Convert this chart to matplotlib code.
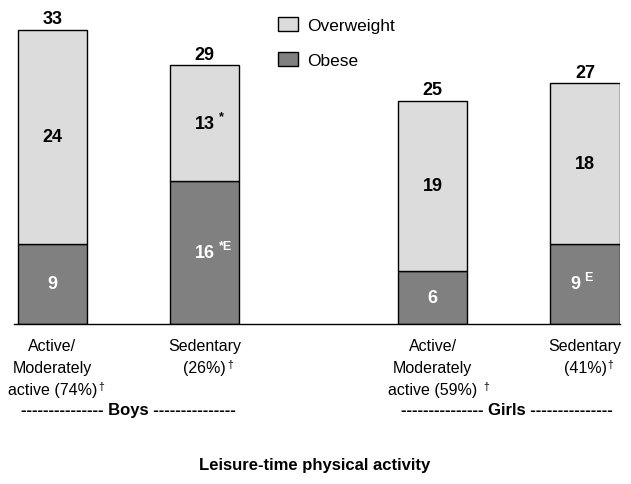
import matplotlib.pyplot as plt
from matplotlib.patches import Patch

plt.rcParams['font.family'] = ['Liberation Sans', 'DejaVu Sans']

# data
positions = [0, 1, 2.5, 3.5]
obese = [9, 16, 6, 9]
overweight = [24, 13, 19, 18]
totals = [33, 29, 25, 27]
obese_sup = ['', '*E', '', 'E']
over_sup = ['', '*', '', '']
cat_labels = [['Active/', 'Moderately', 'active (74%)'], ['Sedentary', '(26%)'],
              ['Active/', 'Moderately', 'active (59%)'], ['Sedentary', '(41%)']]
group_labels = ['--------------- Boys ---------------', '--------------- Girls ---------------']

light = '#dcdcdc'
dark = '#808080'

H = 485
fig = plt.figure(figsize=(6.31, 4.85), dpi=100)
ax = fig.add_axes([14/631, 160/485, 606/631, 312/485])

w = 0.455
ax.bar(positions, obese, w, color=dark, edgecolor='black', linewidth=1)
ax.bar(positions, overweight, w, bottom=obese, color=light, edgecolor='black', linewidth=1)

ax.set_xlim(-0.253, 3.73)
ax.set_ylim(0, 35)
for s in ['top', 'right', 'left']:
    ax.spines[s].set_visible(False)
ax.spines['bottom'].set_linewidth(1)
ax.set_xticks([])
ax.set_yticks([])

# pixel shift of the number when it carries a superscript
num_shift = [0, 0, 0, -10]


def label(i, y, txt, sup, color):
    x = positions[i]
    dx = num_shift[i] if sup else 0
    ax.annotate(txt, (x, y), xytext=(dx, 0), textcoords='offset pixels',
                ha='center', va='center', fontsize=13, fontweight='bold', color=color)
    if sup:
        half = 5 * len(txt)
        ax.annotate(sup, (x, y), xytext=(dx + half + 4, 7), textcoords='offset pixels',
                    ha='left', va='center', fontsize=9, fontweight='bold', color=color)


for i, x in enumerate(positions):
    label(i, obese[i] / 2, str(obese[i]), obese_sup[i], 'white')
    label(i, obese[i] + overweight[i] / 2, str(overweight[i]), over_sup[i], 'black')
    ax.text(x, totals[i] + 0.3, str(totals[i]), ha='center', va='bottom', fontsize=13, fontweight='bold')

# category labels, one line at a time, dagger after the last line
line_y = [347, 369, 391]
dagger_gap = [1, 1, 6, 1]
fig.canvas.draw()
renderer = fig.canvas.get_renderer()
for i, x in enumerate(positions):
    lines = cat_labels[i]
    last = None
    for k, ln in enumerate(lines):
        last = ax.annotate(ln, (x, H - line_y[k]), xycoords=('data', 'figure pixels'),
                           ha='center', va='center', fontsize=11.5)
    bb = last.get_window_extent(renderer)
    fig.text(bb.x1 + dagger_gap[i], bb.y1 + 1, '\u2020', transform=None,
             ha='left', va='top', fontsize=7.5)

fig.text(128/631, 1 - 411/485, group_labels[0], ha='center', va='center', fontsize=12, fontweight='bold')
fig.text(507/631, 1 - 411/485, group_labels[1], ha='center', va='center', fontsize=12, fontweight='bold')
fig.text(315/631, 1 - 466/485, 'Leisure-time physical activity', ha='center', va='center',
         fontsize=12, fontweight='bold')

handles = [Patch(facecolor=light, edgecolor='black', label='Overweight'),
           Patch(facecolor=dark, edgecolor='black', label='Obese')]
fig.legend(handles=handles, loc='upper left', bbox_to_anchor=(262/631, 1 - 2/485), frameon=False,
           fontsize=12.5, handlelength=1.2, handleheight=0.9, labelspacing=1.1, handletextpad=0.5)

fig.savefig('out.png', dpi=100)
